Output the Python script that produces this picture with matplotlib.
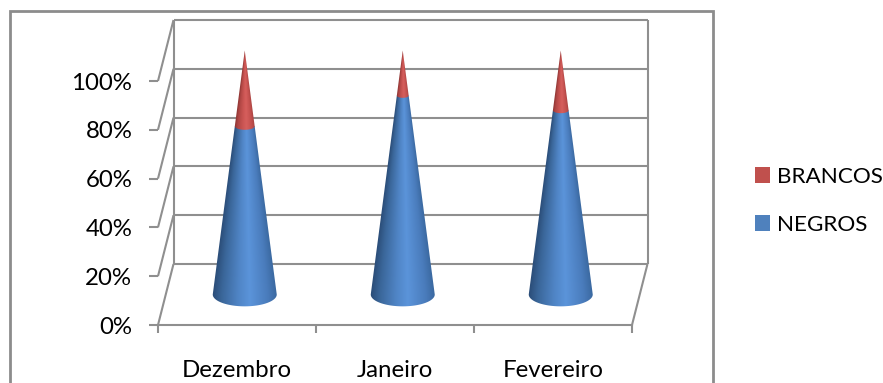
import numpy as np
import matplotlib
matplotlib.use("Agg")
import matplotlib.pyplot as plt
from matplotlib.lines import Line2D
from matplotlib.patches import Patch
from matplotlib.path import Path
from matplotlib.colors import to_rgb

categories = ["Dezembro", "Janeiro", "Fevereiro"]
negros = [69, 81.5, 75.5]
brancos = [31, 18.5, 24.5]
y_ticks = [0, 20, 40, 60, 80, 100]
y_tick_labels = ["0%", "20%", "40%", "60%", "80%", "100%"]

W, H = 883, 383
GRID = "#8f8f8f"
plt.rcParams["font.family"] = ["Lato", "DejaVu Sans"]
FS = 17.3
FS_LEG = 16.2
LW = 1.5

fig = plt.figure(figsize=(W / 100, H / 100), dpi=100, facecolor="white")
L, R, B, T = 158, 632, 325, 81
ax = fig.add_axes([L / W, 1 - B / H, (R - L) / W, (B - T) / H])
ax.set_xlim(0, 3)
ax.set_ylim(0, 100)
ax.patch.set_alpha(0)
px_x = (R - L) / 3
px_y = (B - T) / 100
DX = 15.5 / px_x
DY = 61 / px_y

# outer frame (cut by the bottom of the picture)
frame = Line2D([10 / W, 10 / W, 712.5 / W, 712.5 / W],
               [0, 1 - 11 / H, 1 - 11 / H, 0], color="#8c8c8c", lw=2.0,
               transform=fig.transFigure, solid_joinstyle="miter")
fig.add_artist(frame)

# axes
for s in ["top", "right", "left"]:
    ax.spines[s].set_visible(False)
ax.spines["bottom"].set_color(GRID)
ax.spines["bottom"].set_linewidth(LW)
ax.set_yticks(y_ticks)
ax.set_yticklabels(y_tick_labels, fontsize=FS, color="black")
ax.tick_params(axis="y", length=6.5, width=LW, color=GRID, pad=12)
ax.set_xticks([0, 1, 2, 3])
ax.set_xticklabels([])
ax.tick_params(axis="x", which="major", length=6, width=LW, color=GRID)
ax.set_xticks(np.arange(len(categories)) + 0.5, minor=True)
ax.set_xticklabels(categories, minor=True, fontsize=FS, color="black")
ax.tick_params(axis="x", which="minor", length=0, pad=25)

# 3-D walls
kw = dict(color=GRID, lw=LW, clip_on=False, zorder=1, solid_capstyle="butt")
for v in y_ticks:
    ax.plot([0, DX], [v, v + DY], **kw)
    ax.plot([DX, 3 + DX], [v + DY, v + DY], **kw)
ax.plot([DX, DX], [DY, 100 + DY], **kw)
ax.plot([3 + DX, 3 + DX], [DY, 100 + DY], **kw)
ax.plot([3, 3 + DX], [0, DY], **kw)


def shade(stops, t):
    pos = [-1.0, -0.72, -0.2, 0.15, 0.7, 1.0]
    rgb = np.array([to_rgb(c) for c in stops])
    return np.dstack([np.interp(t, pos, rgb[:, k]) for k in range(3)])


BLUE = ["#2b4d78", "#3a6699", "#5085c6", "#5b94da", "#4a7cbc", "#3a689f"]
RED = ["#8f3634", "#b04644", "#cb5553", "#d65f5d", "#c24f4d", "#a84341"]
RAD = 32 / px_x
RATIO = 0.37
BASE = DY / 2
CONE_H = 100.0


def radius(v):
    return RAD * (1 - v / CONE_H)


def arc(cx, v):
    """Front arc of the cone's ring at height v, left to right."""
    a = np.linspace(np.pi, 2 * np.pi, 60)
    r = radius(v)
    return cx + r * np.cos(a), BASE + v + r * px_x * RATIO * np.sin(a) / px_y


def draw(cx, poly_x, poly_y, stops, y0, y1):
    xs = np.linspace(cx - RAD * 1.02, cx + RAD * 1.02, 240)
    ys = np.linspace(y0, y1, 400)
    gx, gy = np.meshgrid(xs, ys)
    r = RAD * (1 - np.clip(gy - BASE, 0, CONE_H - 0.01) / CONE_H)
    im = ax.imshow(shade(stops, np.clip((gx - cx) / r, -1, 1)), origin="lower",
                   extent=[xs[0], xs[-1], y0, y1], aspect="auto",
                   zorder=3, interpolation="bilinear")
    verts = np.column_stack([poly_x, poly_y])
    im.set_clip_path(Path(np.vstack([verts, verts[0]]), closed=True), ax.transData)
    im.set_clip_box(fig.bbox)


for i in range(len(categories)):
    cx = i + 0.5 + DX / 2
    n = negros[i]
    total = n + brancos[i]
    ax_b, ay_b = arc(cx, 0)
    rb = radius(n)
    # blue body
    draw(cx,
         np.r_[ax_b, cx + rb, cx - rb],
         np.r_[ay_b, BASE + n, BASE + n],
         BLUE, BASE - 8, BASE + n + 1)
    # red tip
    ax_t, ay_t = arc(cx, n)
    draw(cx,
         np.r_[ax_t, cx],
         np.r_[ay_t, BASE + total],
         RED, BASE + n - 8, BASE + total)

ax.set_xlim(0, 3)
ax.set_ylim(0, 100)

handles = [Patch(facecolor="#c0504d", label="BRANCOS"),
           Patch(facecolor="#4f81bd", label="NEGROS")]
fig.legend(handles=handles, loc="upper left", frameon=False, fontsize=FS_LEG,
           bbox_to_anchor=(755 / W, 1 - 167 / H), borderaxespad=0, borderpad=0,
           handlelength=0.67, handleheight=0.67, handletextpad=0.32,
           labelspacing=1.24, labelcolor="black")

fig.savefig("out.png", dpi=100, facecolor="white")
